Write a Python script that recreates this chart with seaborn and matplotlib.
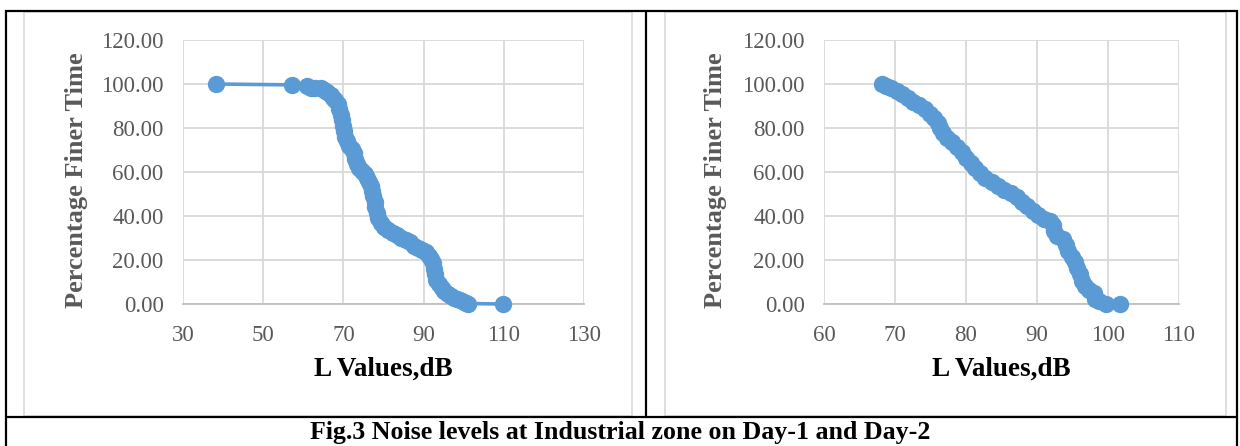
import matplotlib
matplotlib.use("Agg")
import matplotlib.pyplot as plt
from matplotlib.patches import Rectangle
from matplotlib.lines import Line2D
from matplotlib.ticker import FormatStrFormatter, MultipleLocator
import seaborn as sns
import pandas as pd

# ---------------- data ----------------
day1_L = [38.2, 57.3, 60.9, 61.8, 63.0, 64.3, 65.2, 66.0, 66.8, 67.5, 68.0, 68.6,
          69.0, 69.3, 69.6, 69.9, 70.1, 70.4, 70.8, 71.4, 72.2, 72.7, 73.0, 73.3,
          73.8, 74.6, 75.3, 75.9, 76.4, 76.9, 77.2, 77.5, 77.8, 78.0, 78.3, 78.7,
          79.3, 80.2, 81.2, 82.3, 83.3, 84.3, 85.5, 86.5, 87.5, 88.5, 89.5, 90.5,
          91.3, 91.8, 92.3, 92.6, 92.8, 93.2, 93.8, 94.5, 95.2, 96.0, 96.8, 97.6,
          98.4, 99.2, 100.0, 100.6, 101.0, 109.9]
day1_P = [100.0, 99.6, 99.0, 98.3, 98.2, 98.0, 97.2, 96.3, 95.0, 93.5, 92.5, 91.0,
          88.5, 86.0, 83.5, 81.0, 78.5, 76.0, 74.0, 72.0, 70.5, 68.5, 66.0, 63.5,
          62.0, 60.5, 59.0, 57.5, 55.5, 53.5, 51.5, 49.0, 46.5, 44.0, 41.5, 39.0,
          37.0, 35.0, 33.5, 32.3, 31.2, 30.0, 29.3, 28.0, 26.5, 25.5, 24.5, 23.5,
          22.0, 20.5, 18.5, 16.0, 13.5, 11.0, 9.0, 7.5, 6.0, 4.5, 3.5, 2.8,
          2.2, 1.6, 1.0, 0.5, 0.2, 0.0]

day2_L = [68.1, 68.8, 69.5, 70.3, 71.0, 71.8, 72.6, 73.4, 74.2, 74.9, 75.5, 76.0,
          76.3, 76.7, 77.3, 78.0, 78.8, 79.4, 80.0, 80.7, 81.3, 82.0, 82.7, 83.6,
          84.5, 85.3, 86.3, 87.2, 87.9, 88.6, 89.4, 90.2, 91.0, 91.8, 92.3, 92.4,
          92.8, 93.6, 94.1, 94.4, 94.9, 95.3, 95.7, 96.0, 96.3, 96.7, 97.3, 98.0,
          98.1, 98.8, 99.7, 101.7]
day2_P = [100.0, 99.2, 98.0, 96.8, 95.5, 93.8, 92.0, 90.3, 88.5, 86.5, 84.5, 82.3,
          80.0, 77.8, 75.5, 73.5, 71.5, 69.0, 66.5, 64.3, 62.0, 59.5, 57.5, 55.5,
          53.5, 52.0, 50.5, 48.8, 46.5, 44.5, 42.5, 40.5, 38.5, 37.8, 36.0, 33.0,
          31.0, 29.5, 27.0, 24.0, 21.5, 19.0, 16.5, 13.5, 10.5, 8.0, 6.5, 5.0,
          2.5, 1.2, 0.2, 0.0]

day1_xticks = [30, 50, 70, 90, 110, 130]
day2_xticks = [60, 70, 80, 90, 100, 110]

x_label = "L Values,dB"
y_label = "Percentage Finer Time"
caption = "Fig.3 Noise levels at Industrial zone on Day-1 and Day-2"

# ---------------- style ----------------
sns.set_theme(style="white")
plt.rcParams['font.family'] = ['Liberation Serif', 'DejaVu Serif']

W, H = 1240, 446
fig = plt.figure(figsize=(W / 100, H / 100), dpi=100)
fig.patch.set_facecolor("white")


def fx(px):
    return px / W


def fy(py):
    return 1 - py / H


BLUE = "#5B9BD5"
GRID = "#D9D9D9"
TICK = "#595959"

# chart boxes (light gray) and table frame (black)
for x0, x1 in [(24, 632), (665, 1226)]:
    fig.add_artist(Rectangle((fx(x0), fy(416)), fx(x1) - fx(x0), fy(12) - fy(416),
                             transform=fig.transFigure, fill=False,
                             edgecolor=GRID, linewidth=1.2))
fig.add_artist(Rectangle((fx(6), fy(452)), fx(1237) - fx(6), fy(11) - fy(452),
                         transform=fig.transFigure, fill=False, clip_on=False,
                         edgecolor="black", linewidth=1.6))
fig.add_artist(Line2D([fx(6), fx(1237)], [fy(417), fy(417)],
                      transform=fig.transFigure, color="black", linewidth=1.6))
fig.add_artist(Line2D([fx(646), fx(646)], [fy(11), fy(417)],
                      transform=fig.transFigure, color="black", linewidth=1.6))

panels = [
    dict(L=day1_L, P=day1_P, x0=183, x1=584, xlim=(30, 130), xt=day1_xticks, ylab_x=88),
    dict(L=day2_L, P=day2_P, x0=824, x1=1179, xlim=(60, 110), xt=day2_xticks, ylab_x=727),
]

for p in panels:
    top, bot = 40, 304
    ax = fig.add_axes([fx(p["x0"]), fy(bot), fx(p["x1"]) - fx(p["x0"]), fy(top) - fy(bot)])
    ax.set_facecolor("none")
    df = pd.DataFrame({"L": p["L"], "P": p["P"]})
    sns.lineplot(data=df, x="L", y="P", ax=ax, color=BLUE, linewidth=2.6,
                 marker="o", markersize=12.5, markeredgewidth=0,
                 sort=False, estimator=None, clip_on=False, zorder=5)
    ax.set_xlim(*p["xlim"])
    ax.set_ylim(0, 120)
    ax.set_xticks(p["xt"])
    ax.yaxis.set_major_locator(MultipleLocator(20))
    ax.yaxis.set_major_formatter(FormatStrFormatter("%.2f"))
    ax.grid(True, color=GRID, linewidth=1.3, zorder=0)
    ax.set_axisbelow(True)
    for s in ["top", "right", "left"]:
        ax.spines[s].set_visible(False)
    ax.spines["bottom"].set_color("#BFBFBF")
    ax.spines["bottom"].set_linewidth(1.3)
    ax.tick_params(axis="both", length=0, labelsize=16.5, labelcolor=TICK)
    ax.tick_params(axis="y", pad=14)
    ax.tick_params(axis="x", pad=15)
    ax.set_xlabel(x_label, fontsize=19.5, fontweight="bold", color="black")
    ax.set_ylabel(y_label, fontsize=19, fontweight="bold", color="#595959")
    w = p["x1"] - p["x0"]
    ax.xaxis.set_label_coords(0.5, (bot - 357) / (bot - top))
    ax.yaxis.set_label_coords((p["ylab_x"] - p["x0"]) / w, (bot - 180) / (bot - top))

fig.text(0.5, fy(432), caption, ha="center", va="center",
         fontsize=18.6, fontweight="bold", color="black")

fig.savefig("out.png", dpi=100, facecolor="white")
